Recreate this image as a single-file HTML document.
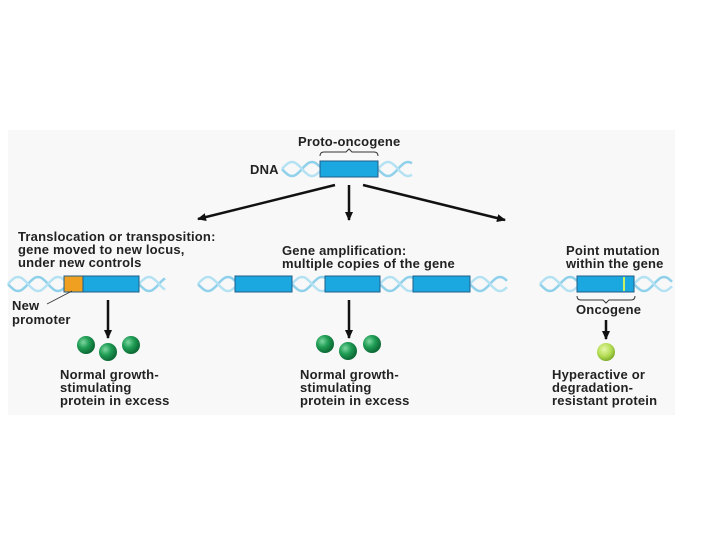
<!DOCTYPE html>
<html><head><style>
body{margin:0;width:720px;height:540px;background:#fff;overflow:hidden}
svg text{font-family:"Liberation Sans",Arial,sans-serif;font-weight:bold;font-size:13px;letter-spacing:0.2px;fill:#222}
</style></head><body>
<svg width="720" height="540" viewBox="0 0 720 540">
<defs>
<radialGradient id="g1" cx="35%" cy="35%" r="65%"><stop offset="0" stop-color="#7fd6a0"/><stop offset="0.5" stop-color="#1f9e55"/><stop offset="1" stop-color="#0d6a35"/></radialGradient>
<radialGradient id="g2" cx="40%" cy="35%" r="65%"><stop offset="0" stop-color="#e6f7a8"/><stop offset="0.6" stop-color="#b4dd55"/><stop offset="1" stop-color="#7fae2c"/></radialGradient>
<marker id="ah" markerWidth="10" markerHeight="10" refX="8" refY="5" orient="auto" markerUnits="userSpaceOnUse"><path d="M0,1 L9,5 L0,9 Z" fill="#111"/></marker>
</defs>
<rect x="8" y="130" width="667" height="285" fill="#f8f8f8"/>
<g id="hx" stroke="#8fd0ea" stroke-width="2.5" fill="none"></g>
<g stroke="#1f5e8a" stroke-width="1" fill="#1ba8e0">
<rect x="320" y="161" width="58" height="16"/>
<rect x="83" y="276" width="56" height="16"/>
<rect x="235" y="276" width="57" height="16"/>
<rect x="325" y="276" width="55" height="16"/>
<rect x="413" y="276" width="57" height="16"/>
<rect x="577" y="276" width="57" height="16"/>
</g>
<rect x="64" y="276" width="19" height="16" fill="#f0a020" stroke="#1f5e8a"/>
<line x1="624" y1="277" x2="624" y2="291" stroke="#c8f060" stroke-width="2"/>
<path d="M320,156 q0,-4 4,-4 h22 l3,-3 l3,3 h22 q4,0 4,4" fill="none" stroke="#333"/>
<path d="M577,296 q0,4 4,4 h22 l3,3 l3,-3 h22 q4,0 4,-4" fill="none" stroke="#333"/>
<text x="298" y="146">Proto-oncogene</text>
<text x="250" y="174">DNA</text>
<g stroke="#111" stroke-width="2.5">
<line x1="335" y1="185" x2="198" y2="219" marker-end="url(#ah)"/>
<line x1="349" y1="185" x2="349" y2="220" marker-end="url(#ah)"/>
<line x1="363" y1="185" x2="505" y2="220" marker-end="url(#ah)"/>
<line x1="108" y1="300" x2="108" y2="338" marker-end="url(#ah)"/>
<line x1="349" y1="300" x2="349" y2="338" marker-end="url(#ah)"/>
<line x1="606" y1="320" x2="606" y2="339" marker-end="url(#ah)"/>
</g>
<line x1="47" y1="304" x2="72" y2="291" stroke="#333" stroke-width="0.8"/>
<text x="18" y="241">Translocation or transposition:</text>
<text x="18" y="254">gene moved to new locus,</text>
<text x="18" y="267">under new controls</text>
<text x="12" y="310">New</text>
<text x="12" y="324">promoter</text>
<text x="282" y="255">Gene amplification:</text>
<text x="282" y="268">multiple copies of the gene</text>
<text x="566" y="255">Point mutation</text>
<text x="566" y="268">within the gene</text>
<text x="576" y="314">Oncogene</text>
<circle cx="86" cy="345" r="9" fill="url(#g1)"/><circle cx="108" cy="352" r="9" fill="url(#g1)"/><circle cx="131" cy="345" r="9" fill="url(#g1)"/>
<circle cx="325" cy="344" r="9" fill="url(#g1)"/><circle cx="348" cy="351" r="9" fill="url(#g1)"/><circle cx="372" cy="344" r="9" fill="url(#g1)"/>
<circle cx="606" cy="352" r="9" fill="url(#g2)"/>
<text x="60" y="379">Normal growth-</text><text x="60" y="392">stimulating</text><text x="60" y="405">protein in excess</text>
<text x="300" y="379">Normal growth-</text><text x="300" y="392">stimulating</text><text x="300" y="405">protein in excess</text>
<text x="552" y="379">Hyperactive or</text><text x="552" y="392">degradation-</text><text x="552" y="405">resistant protein</text>
</svg>
<script>
var segs=[[282,320,169],[378,412,169],[8,64,284],[139,165,284],[198,235,284],[292,325,284],[380,413,284],[470,507,284],[540,577,284],[634,672,284]];
var g=document.getElementById('hx'),ns='http://www.w3.org/2000/svg';
segs.forEach(function(s){
 [0,Math.PI].forEach(function(ph){
  var d='';
  for(var x=s[0];x<=s[1];x+=1){var y=s[2]+7*Math.sin((x-s[0])*2*Math.PI/40+ph);d+=(d?'L':'M')+x+','+y.toFixed(1);}
  var p=document.createElementNS(ns,'path');p.setAttribute('d',d);
  if(ph)p.setAttribute('stroke','#b5e2f3');
  g.appendChild(p);
 });
});
</script>
</body></html>
